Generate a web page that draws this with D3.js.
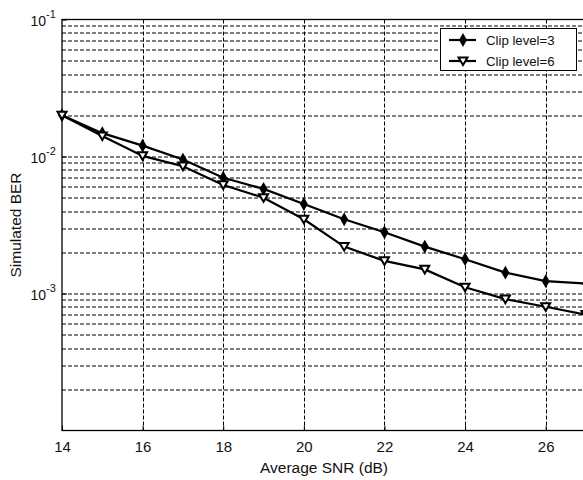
<!DOCTYPE html>
<html>
<head>
<meta charset="utf-8">
<script src="https://cdn.jsdelivr.net/npm/d3@7"></script>
<style>
  body { margin: 0; background: #fff; }
  text { font-family: "Liberation Sans", Arial, sans-serif; fill: #111; }
</style>
</head>
<body>
<div id="chart"></div>
<script>
// BER vs SNR, two clip levels
const snr = [14, 15, 16, 17, 18, 19, 20, 21, 22, 23, 24, 25, 26, 27];
const berClip3 = [0.0200, 0.0148, 0.0120, 0.0095, 0.0070, 0.0058, 0.0045, 0.00348, 0.0028, 0.0022, 0.00178, 0.00142, 0.00123, 0.00118];
const berClip6 = [0.0200, 0.0141, 0.0101, 0.0085, 0.0062, 0.0050, 0.00348, 0.0022, 0.00173, 0.00150, 0.00111, 0.00091, 0.00080, 0.00070];
const xTicks = [14, 16, 18, 20, 22, 24, 26];
const yTickExp = [-1, -2, -3];
const seriesNames = ['Clip level=3', 'Clip level=6'];

const W = 583, H = 480;
const margin = { top: 19.5, right: -3, bottom: 49.5, left: 62 };
const width = W - margin.left - margin.right;
const height = H - margin.top - margin.bottom;

const svg = d3.select('#chart').append('svg')
    .attr('width', W).attr('height', H);

const g = svg.append('g')
    .attr('transform', `translate(${margin.left},${margin.top})`);

const x = d3.scaleLinear().domain([14, 27]).range([0, width]);
const y = d3.scaleLog().domain([1e-4, 1e-1]).range([height, 0]);

// grid (one dashed line per minor decade step)
const minorVals = [];
for (let e = -4; e <= -2; e++) {
    for (let k = 1; k <= 9; k++) {
        const v = k * Math.pow(10, e);
        if (v > 1e-4) minorVals.push(v);
    }
}
g.append('g').selectAll('line').data(minorVals).enter().append('line')
    .attr('x1', 0).attr('x2', width)
    .attr('y1', d => Math.round(y(d)) + 0.5).attr('y2', d => Math.round(y(d)) + 0.5)
    .attr('stroke', '#000').attr('stroke-width', 1).attr('stroke-dasharray', '4,2');
g.append('g').selectAll('line').data(xTicks.slice(1)).enter().append('line')
    .attr('x1', d => Math.round(x(d)) + 0.5).attr('x2', d => Math.round(x(d)) + 0.5)
    .attr('y1', 0).attr('y2', height)
    .attr('stroke', '#000').attr('stroke-width', 1).attr('stroke-dasharray', '4,2');

// box
g.append('rect').attr('x', 0).attr('y', 0).attr('width', width).attr('height', height)
    .attr('fill', 'none').attr('stroke', '#000').attr('stroke-width', 1.3);

// x axis
const xAxis = d3.axisBottom(x).tickValues(xTicks).tickSize(-5).tickPadding(11).tickFormat(d3.format('d'));
const xg = g.append('g').attr('transform', `translate(0,${height})`).call(xAxis);
xg.select('.domain').remove();
xg.selectAll('text').attr('font-size', 15).style('font-family', '"Liberation Sans", Arial, sans-serif');

// y axis with superscript labels
const yAxis = d3.axisLeft(y).tickValues(yTickExp.map(e => Math.pow(10, e))).tickSize(-5).tickFormat('');
const yg = g.append('g').call(yAxis);
yg.select('.domain').remove();
const yl = g.append('g').selectAll('text').data(yTickExp).enter().append('text')
    .attr('x', -31.5).attr('y', e => y(Math.pow(10, e)) + 6)
    .attr('font-size', 14);
yl.append('tspan').text('10');
yl.append('tspan').attr('dy', -8).attr('font-size', 11).text(e => e);

// axis titles
svg.append('text').attr('x', margin.left + width / 2).attr('y', 473)
    .attr('text-anchor', 'middle').attr('font-size', 15.5).text('Average SNR (dB)');
svg.append('text').attr('transform', `translate(21,${margin.top + height / 2}) rotate(-90)`)
    .attr('text-anchor', 'middle').attr('font-size', 15.5).text('Simulated BER');

// lines
const plot = g.append('g');
const line = d3.line().x(d => x(d[0])).y(d => y(d[1]));
const diamond = d3.symbol().type(d3.symbolDiamond).size(55);
const tri = s => `M${-s},${-s * 0.8}L${s},${-s * 0.8}L0,${s * 0.9}Z`;

[berClip3, berClip6].forEach((ser, i) => {
    const pts = snr.map((s, j) => [s, ser[j]]);
    plot.append('path').datum(pts).attr('d', line)
        .attr('fill', 'none').attr('stroke', '#000').attr('stroke-width', 2.2);
    const m = plot.append('g').selectAll('path').data(pts).enter().append('path')
        .attr('transform', d => `translate(${x(d[0])},${y(d[1])})`);
    if (i === 0) m.attr('d', diamond).attr('fill', '#000');
    else m.attr('d', tri(4.5)).attr('fill', '#fff').attr('stroke', '#000').attr('stroke-width', 2);
});

// legend
const lg = svg.append('g');
lg.append('rect').attr('x', 440.5).attr('y', 28.5).attr('width', 136).attr('height', 42)
    .attr('fill', '#fff').attr('stroke', '#000').attr('stroke-width', 1);
seriesNames.forEach((name, i) => {
    const ly = 40 + i * 21;
    lg.append('line').attr('x1', 449).attr('x2', 476).attr('y1', ly).attr('y2', ly)
        .attr('stroke', '#000').attr('stroke-width', 2.2);
    const mk = lg.append('path').attr('transform', `translate(463,${ly})`);
    if (i === 0) mk.attr('d', diamond).attr('fill', '#000');
    else mk.attr('d', tri(4.5)).attr('fill', '#fff').attr('stroke', '#000').attr('stroke-width', 2);
    lg.append('text').attr('x', 486).attr('y', ly + 5).attr('font-size', 13.2).text(name);
});
</script>
</body>
</html>
